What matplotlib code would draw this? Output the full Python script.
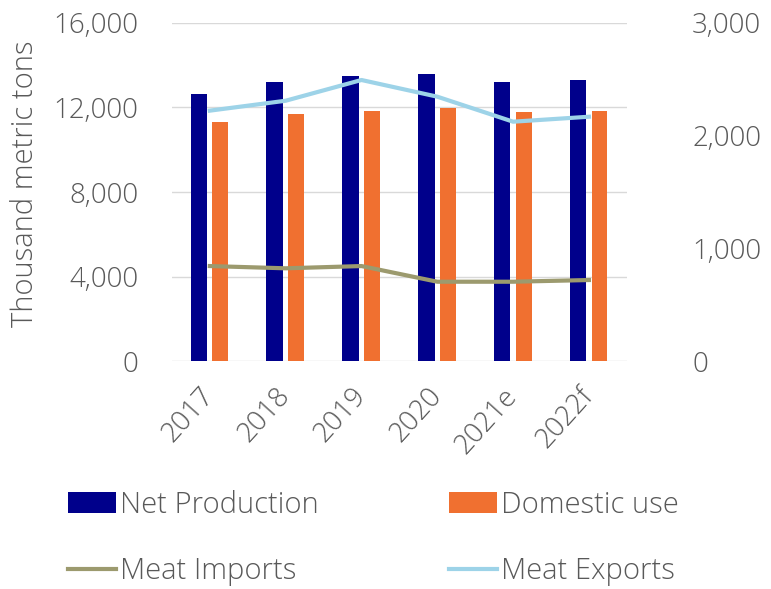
import numpy as np
import matplotlib.pyplot as plt
import matplotlib.transforms as mtransforms

plt.rcParams['font.family'] = ['Open Sans', 'DejaVu Sans']
plt.rcParams['font.weight'] = 'light'

years = ['2017', '2018', '2019', '2020', '2021e', '2022f']
net_production = [12650, 13210, 13470, 13590, 13210, 13280]
domestic_use = [11290, 11700, 11820, 11960, 11790, 11850]
meat_imports = [843, 823, 843, 704, 704, 719]
meat_exports = [2222, 2310, 2494, 2346, 2124, 2168]

navy = '#00008B'
orange = '#F07030'
olive = '#9C9A6E'
lightblue = '#9DD3E8'
txt = '#595959'

fig = plt.figure(figsize=(7.71, 5.89), dpi=100)
ax = fig.add_axes([0.223, 0.387, 0.59, 0.574])
ax2 = ax.twinx()

x = np.arange(len(years))
b1 = ax.bar(x - 0.145, net_production, width=0.22, color=navy, zorder=2)
b2 = ax.bar(x + 0.14, domestic_use, width=0.21, color=orange, zorder=2)
l1, = ax2.plot(x, meat_imports, color=olive, lw=3)
l2, = ax2.plot(x, meat_exports, color=lightblue, lw=3)

ax.set_xlim(-0.5, 5.5)
ax.set_ylim(0, 16000)
ax2.set_ylim(0, 3000)
ax.set_yticks([0, 4000, 8000, 12000, 16000])
ax.set_yticklabels([f'{v:,}' for v in [0, 4000, 8000, 12000, 16000]])
ax2.set_yticks([0, 1000, 2000, 3000])
ax2.set_yticklabels([f'{v:,}' for v in [0, 1000, 2000, 3000]])
ax.set_xticks(x)
ax.set_xticklabels(years, rotation=48, ha='right', va='center', rotation_mode='anchor')
shift = mtransforms.ScaledTranslation(8 / 100, 0, fig.dpi_scale_trans)
for lab in ax.get_xticklabels():
    lab.set_transform(lab.get_transform() + shift)

ax.grid(axis='y', color='#D9D9D9', lw=1, zorder=0)
ax.set_axisbelow(True)
for a in (ax, ax2):
    for s in a.spines.values():
        s.set_visible(False)
    a.tick_params(length=0, labelsize=20, colors=txt)
ax.tick_params(axis='y', pad=24)
ax2.tick_params(axis='y', pad=47)
ax.tick_params(axis='x', pad=22)

ax.set_ylabel('Thousand metric tons', fontsize=21, color=txt, fontweight='light')
ax.yaxis.set_label_coords(-0.29, 0.525)

fig.legend([b1, l1, b2, l2], ['Net Production', 'Meat Imports', 'Domestic use', 'Meat Exports'],
           loc='lower left', bbox_to_anchor=(0.054, -0.04), ncol=2, frameon=False,
           fontsize=21, labelcolor=txt, handlelength=1.65, handletextpad=0.14,
           columnspacing=4.45, labelspacing=1.27)

fig.savefig('out.png', dpi=100)
